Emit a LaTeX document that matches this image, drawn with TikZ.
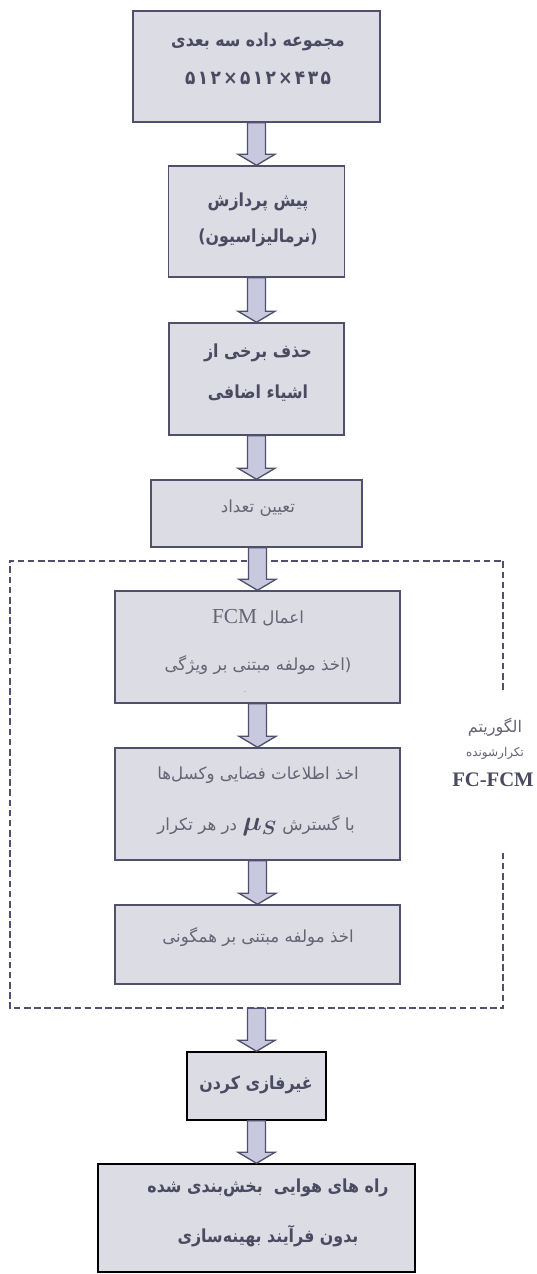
\documentclass[tikz,border=0pt]{standalone}
\usepackage{fontspec}
\setmainfont{Liberation Serif}
\newfontfamily\fa[Script=Arabic]{DejaVu Sans}
\newfontfamily\fab[Script=Arabic,FakeStretch=0.88]{DejaVu Sans Bold}
\TeXXeTstate=1
\usetikzlibrary{calc}
\definecolor{boxfill}{HTML}{DCDCE5}
\definecolor{boxline}{HTML}{50506C}
\definecolor{arrfill}{HTML}{C8C8DE}
\definecolor{txtdark}{HTML}{4A4A60}
\definecolor{txtlight}{HTML}{646474}
\newcommand\RL[1]{\beginR#1\endR}
\newcommand\blockarrow[2]{%
  \draw[barrow] ($(#2.north |- #1.south)+(-9,0)$) -- ($(#2.north)+(-9,-11)$) -- ($(#2.north)+(-18.5,-11)$) -- (#2.north)
   -- ($(#2.north)+(18.5,-11)$) -- ($(#2.north)+(9,-11)$) -- ($(#2.north |- #1.south)+(9,0)$) -- cycle;}
\begin{document}
\begin{tikzpicture}[x=0.75pt,y=-0.75pt,
  box/.style={draw=boxline,fill=boxfill,line width=1.1pt,inner sep=0pt,rectangle},
  kbox/.style={box,draw=black},
  bt/.style={font=\fab\fontsize{13.5}{15}\selectfont,text=txtdark,inner sep=0pt},
  lt/.style={font=\fa\fontsize{12.5}{14}\selectfont,text=txtlight,inner sep=0pt},
  barrow/.style={draw=boxline,fill=arrfill,line width=1pt,line join=miter},
  frameline/.style={draw=boxline,line width=1.2pt,dash pattern=on 5pt off 2.6pt}]
\useasboundingbox (0,0) rectangle (536,1274);
% frame
\node[inner sep=0pt,minimum width=493*0.75pt,minimum height=447*0.75pt] (frame) at (256.5,784.5) {};
\draw[frameline] ($(frame.north east)+(0,129)$) -- (frame.north east) -- (frame.north west)
  -- (frame.south west) -- (frame.south east) -- ($(frame.south east)+(0,-158)$);
% boxes
\node[box,minimum width=247*0.75pt,minimum height=111*0.75pt] (b1) at (256.5,66.5) {};
\node[box,minimum width=176*0.75pt,minimum height=111*0.75pt] (b2) at (256.5,221.5) {};
\node[box,minimum width=175*0.75pt,minimum height=112*0.75pt] (b3) at (256.5,379) {};
\node[box,minimum width=211*0.75pt,minimum height=67*0.75pt] (b4) at (256.5,513.5) {};
\node[box,minimum width=285*0.75pt,minimum height=112*0.75pt] (b5) at (257.5,647) {};
\node[box,minimum width=285*0.75pt,minimum height=112*0.75pt] (b6) at (257.5,804) {};
\node[box,minimum width=285*0.75pt,minimum height=79*0.75pt] (b7) at (257.5,944.5) {};
\node[kbox,minimum width=139*0.75pt,minimum height=68*0.75pt] (b8) at (256.5,1086) {};
\node[kbox,minimum width=317*0.75pt,minimum height=108*0.75pt] (b9) at (256.5,1218) {};
% arrows
\blockarrow{b1}{b2}
\blockarrow{b2}{b3}
\blockarrow{b3}{b4}
\blockarrow{b4}{b5}
\blockarrow{b5}{b6}
\blockarrow{b6}{b7}
\blockarrow{frame}{b8}
\blockarrow{b8}{b9}
% texts
\node[bt] (t1a) at (258,42) {\RL{مجموعه داده سه بعدی}};
\node[bt,font=\fab\fontsize{14.5}{16}\selectfont] (t1b) at (258,78) {۵\kern1.8pt۱\kern1.8pt۲\kern1.8pt×\kern1.8pt۵\kern1.8pt۱\kern1.8pt۲\kern1.8pt×\kern1.8pt۴\kern1.8pt۳\kern1.8pt۵};
\node[bt] (t2a) at (258,202) {\RL{پیش پردازش}};
\node[bt] (t2b) at (258,238) {\RL{(نرمالیزاسیون)}};
\node[bt] (t3a) at (258,353) {\RL{حذف برخی از}};
\node[bt] (t3b) at (258,393) {\RL{اشیاء اضافی}};
\node[lt] (t4) at (258,508) {\RL{تعیین تعداد}};
\node[lt] (t5a) at (258,618) {{\rmfamily\fontsize{16}{18}\selectfont FCM} \RL{اعمال}};
\node[lt] (t5b) at (258,665) {\RL{اخذ مولفه مبتنی بر ویژگی}(};
\node[lt,font=\fontsize{6}{7}\selectfont] (t5c) at (245,692) {.};
\node[lt] (t6a) at (258,775) {\RL{اخذ اطلاعات فضایی وکسل^^^^200cها}};
\node[lt] (t6b) at (256,826) {\RL{در هر تکرار} {\color{txtdark}\fontsize{22}{24}\selectfont\boldmath$\mu_{S}$} \RL{با گسترش}};
\node[lt] (t7) at (258,937) {\RL{اخذ مولفه مبتنی بر همگونی}};
\node[bt] (t8) at (256,1085) {\RL{غیرفازی کردن}};
\node[bt] (t9a) at (268,1188) {\RL{راه های هوایی\ \ بخش^^^^200cبندی شده}};
\node[bt] (t9b) at (268,1236) {\RL{بدون فرآیند بهینه^^^^200cسازی}};
% label
\node[lt,font=\fa\fontsize{12}{14}\selectfont] (l1) at (495,727) {\RL{الگوریتم}};
\node[lt,font=\fa\fontsize{9}{11}\selectfont] (l2) at (495,753) {\RL{تکرارشونده}};
\node[inner sep=0pt,text=txtdark,font=\rmfamily\bfseries\fontsize{15.5}{17}\selectfont] (l3) at (493,780) {FC-FCM};
\end{tikzpicture}
\end{document}
